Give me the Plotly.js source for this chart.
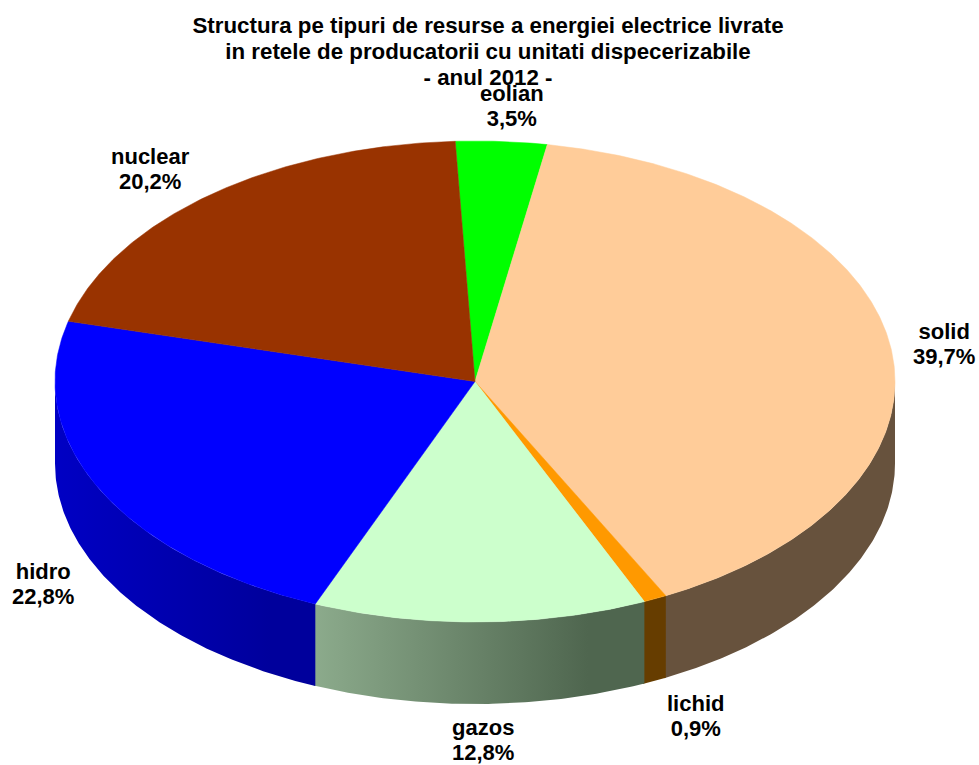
<!DOCTYPE html>
<html>
<head>
<meta charset="utf-8">
<script src="https://cdn.plot.ly/plotly-3.0.1.min.js"></script>
<style>html,body{margin:0;padding:0;background:#fff}#chart{width:979px;height:765px}</style>
</head>
<body>
<div id="chart"></div>
<script>
// Data, in drawing order clockwise from the start angle
const categories = ["eolian", "solid", "lichid", "gazos", "hidro", "nuclear"];
const shares = [3.5, 39.7, 0.9, 12.8, 22.8, 20.2];
const shareLabels = ["3,5%", "39,7%", "0,9%", "12,8%", "22,8%", "20,2%"];
const topColors = ["#00ff00", "#ffcc99", "#ff9900", "#ccffcc", "#0000ff", "#993300"];
const wallLeftColors = ["#009900", "#67523d", "#663d00", "#8cab8c", "#0000c4", "#5c1f00"];
const wallRightColors = ["#009900", "#67523d", "#663d00", "#4f664f", "#00009c", "#5c1f00"];
const titleLines = ["Structura pe tipuri de resurse a energiei electrice livrate", "in retele de producatorii cu unitati dispecerizabile", "- anul 2012 -"];

// Geometry of the tilted pie (in the hidden axes' units)
const cx = 475, cy = 381.5, rx = 420, ry = 240.5, depth = 82, startDeg = -2.7;
const labelX = [512, 944, 695, 483, 43, 150];
const labelY = [106, 344, 716, 740, 584, 169];
const FONT = '"Liberation Sans", Arial, sans-serif';
const big = (s, size) => '<span style="font-size:' + size + 'px"><b>' + s + '</b></span>';

const px = d => cx + rx * Math.sin(d * Math.PI / 180);
const py = d => cy - ry * Math.cos(d * Math.PI / 180);
function arc(a, b) {
  const n = Math.max(2, Math.ceil(Math.abs(b - a) * 2));
  return Array.from({length: n + 1}, (_, i) => a + (b - a) * i / n);
}

const total = shares.reduce((s, v) => s + v, 0);
let cursor = startDeg;
const spans = shares.map(v => { const a = cursor; cursor += v / total * 360; return [a, cursor]; });

const walls = [], tops = [];
spans.forEach(([a, b], i) => {
  // side wall: only the part on the front half (90 to 270 degrees) is seen;
  // each wall runs a hair under the next one so no seam shows
  const lo = Math.max(a, 90), hi = Math.min(b + 0.25, 270);
  if (lo < hi) {
    const t = arc(lo, hi);
    walls.push({
      type: "scatter", mode: "lines", hoverinfo: "skip", showlegend: false,
      x: t.map(px).concat(t.slice().reverse().map(px)).concat([px(t[0])]),
      y: t.map(d => py(d)).concat(t.slice().reverse().map(d => py(d) + depth)).concat([py(t[0])]),
      fill: "toself", line: {width: 0},
      fillgradient: {type: "horizontal", colorscale: [[0, wallLeftColors[i]], [0.83, wallRightColors[i]], [1, wallRightColors[i]]]}
    });
  }
  const t = arc(a, b);
  tops.push({
    type: "scatter", mode: "lines", name: categories[i], showlegend: false,
    text: categories[i] + " " + shareLabels[i], hoverinfo: "text",
    x: [cx].concat(t.map(px), [cx]),
    y: [cy].concat(t.map(d => py(d)), [cy]),
    fill: "toself", fillcolor: topColors[i],
    line: {width: 0.5, color: topColors[i]}
  });
});

const annotations = categories.map((c, i) => ({
  x: labelX[i], y: labelY[i], xref: "x", yref: "y",
  text: big(c, 22) + "<br>" + big(shareLabels[i], 22),
  showarrow: false, align: "center", xanchor: "center", yanchor: "middle",
  font: {family: FONT, size: 19.2, color: "#000"}
}));

const layout = {
  width: 979, height: 765,
  margin: {l: 0, r: 0, t: 0, b: 0},
  paper_bgcolor: "#fff", plot_bgcolor: "#fff",
  showlegend: false,
  title: {
    text: titleLines.map(s => big(s, 22.3)).join("<br>"),
    font: {family: FONT, size: 20, color: "#000"},
    x: 0.4985, xanchor: "center", y: 0.9575, yanchor: "top"
  },
  xaxis: {range: [0, 979], visible: false, fixedrange: true},
  yaxis: {range: [765, 0], visible: false, fixedrange: true},
  annotations
};

Plotly.newPlot("chart", walls.concat(tops), layout, {displayModeBar: false, responsive: false});
</script>
</body>
</html>
